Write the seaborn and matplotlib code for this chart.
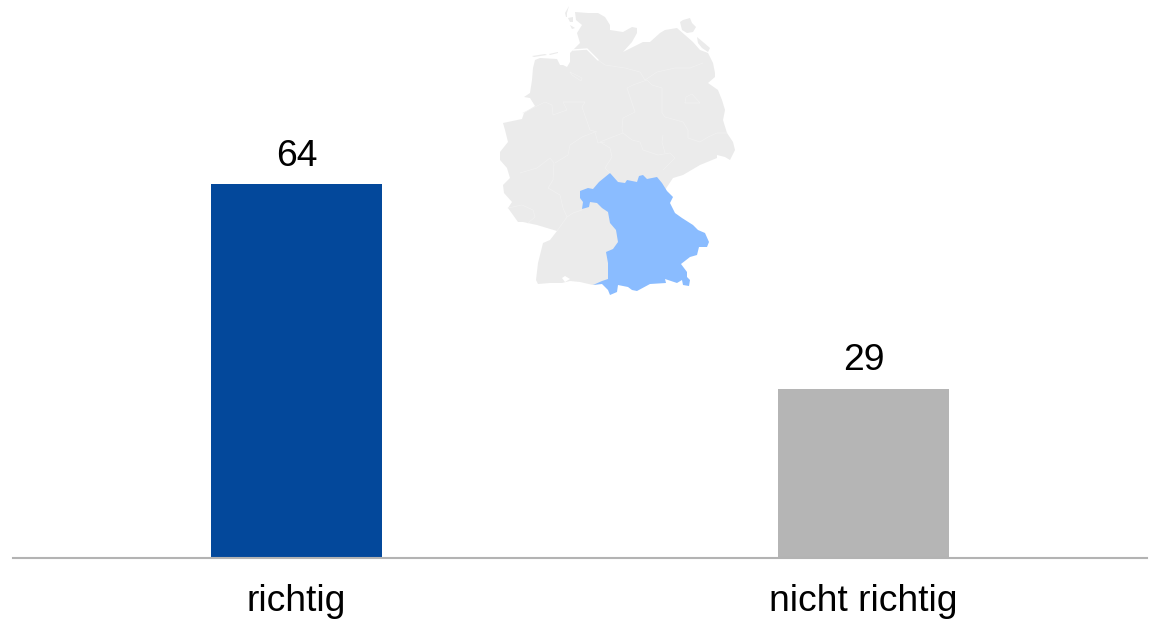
import numpy as np
import pandas as pd
import matplotlib
matplotlib.use("Agg")
import matplotlib.pyplot as plt
import seaborn as sns

categories = ["richtig", "nicht richtig"]
values = [64, 29]
bar_colors = ["#03489B", "#B5B5B5"]

# map outlines in pixels
germany_outline = [
    (575, 12), (588, 13), (598, 13), (605, 17), (610, 25), (610, 30), (623, 32), (632, 27), (637, 28),
    (637, 33), (632, 42), (623, 52), (633, 47), (643, 42), (650, 42), (660, 33), (665, 30), (677, 28),
    (685, 35), (693, 42), (700, 50), (708, 53), (713, 63), (715, 73), (715, 77), (708, 83), (718, 90),
    (722, 100), (725, 110), (723, 120), (727, 133), (733, 142), (735, 150), (730, 160), (725, 157),
    (717, 155), (717, 158), (700, 165), (683, 175), (673, 178), (667, 187), (640, 230), (620, 280),
    (593, 285), (580, 282), (570, 281), (562, 283), (550, 283), (538, 284), (536, 280), (538, 263),
    (543, 243), (550, 240), (557, 231), (537, 225), (523, 222), (518, 222), (508, 208), (512, 202),
    (504, 193), (503, 185), (510, 178), (507, 168), (500, 160), (500, 152), (508, 142), (505, 130),
    (503, 123), (522, 119), (524, 113), (535, 106), (530, 98), (524, 97), (530, 93), (532, 80),
    (533, 68), (535, 60), (540, 58), (557, 59), (560, 65), (563, 65), (567, 67), (570, 62), (570, 53),
    (573, 50), (580, 43), (577, 33), (582, 25), (576, 20),
]
bavaria_outline = [
    (610, 173), (618, 182), (625, 183), (627, 180), (637, 182), (639, 176), (643, 175), (647, 179),
    (657, 177), (662, 183), (667, 191), (673, 197), (670, 203), (675, 213), (682, 218), (693, 225),
    (698, 230), (705, 233), (709, 242), (707, 247), (699, 247), (697, 255), (690, 257), (681, 264),
    (687, 272), (687, 277), (690, 280), (689, 286), (683, 285), (682, 280), (677, 283), (665, 279),
    (666, 283), (650, 284), (637, 291), (632, 290), (628, 287), (618, 285), (617, 292), (610, 295),
    (608, 290), (602, 284), (593, 285), (602, 281), (608, 279), (608, 263), (606, 252), (613, 249),
    (618, 242), (616, 230), (610, 223), (608, 212), (602, 208), (597, 203), (590, 202), (589, 207),
    (582, 209), (583, 202), (580, 198), (580, 191), (588, 188), (593, 189), (599, 182),
]
islands = [
    [(566, 17), (565, 13), (569, 6), (567, 13), (567, 17)],
    [(568, 18), (573, 17), (573, 22), (570, 22)],
    [(570, 25), (575, 28), (572, 29)],
    [(532, 56), (545, 54), (547, 55), (534, 57)],
    [(549, 54), (558, 52), (558, 53), (550, 55)],
    [(680, 22), (683, 20), (690, 18), (692, 23), (696, 27), (693, 32), (687, 33), (682, 30)],
    [(697, 37), (703, 42), (710, 48), (708, 52), (702, 48), (698, 43)],
]
inner_borders = [
    [(627, 88), (633, 85), (647, 80), (652, 85), (662, 88), (662, 113), (665, 117), (683, 122), (688, 130), (688, 138), (700, 142), (708, 137), (717, 133), (727, 133)],
    [(627, 88), (632, 103), (635, 112), (623, 118), (622, 128), (623, 133), (610, 138), (600, 142)],
    [(623, 133), (632, 140), (640, 142), (643, 150), (658, 155), (670, 153), (675, 158), (663, 170)],
    [(663, 135), (662, 142), (665, 153)],
    [(685, 103), (686, 97), (692, 94), (700, 103), (685, 103)],
    [(600, 142), (610, 148), (612, 157), (605, 168), (610, 173)],
    [(645, 80), (657, 72), (675, 68), (690, 68), (703, 63)],
    [(598, 60), (605, 65), (625, 68), (640, 72), (645, 80)],
    [(520, 173), (537, 168), (550, 158), (554, 163), (553, 180), (548, 188), (560, 195), (563, 208), (567, 217), (557, 231)],
    [(555, 163), (568, 155), (570, 145), (582, 137), (595, 132), (598, 143), (605, 142)],
    [(508, 208), (522, 205), (533, 210), (535, 217), (528, 223)],
    [(567, 217), (573, 213), (582, 210)],
    [(523, 113), (545, 102), (552, 105), (553, 115), (567, 110), (563, 102), (578, 102), (585, 102), (582, 107), (590, 130), (597, 132)],
    [(570, 72), (582, 78), (581, 81), (572, 75), (570, 72)],
]
elbe_line = [(573, 50), (587, 49), (598, 60)]
bodensee = [(562, 278), (565, 276), (570, 279), (565, 282)]

sns.set_theme(style="white")
plt.rcParams["font.family"] = ["Liberation Sans", "DejaVu Sans"]

df = pd.DataFrame({"category": categories, "value": values})

fig = plt.figure(figsize=(11.53, 6.21), dpi=100)

# the chart area runs from the top of the picture down to the base line
ax = fig.add_axes([13 / 1153, 1 - 558 / 621, (1147 - 13) / 1153, 558 / 621])
sns.barplot(data=df, x="category", y="value", hue="category", palette=bar_colors,
            order=categories, hue_order=categories, width=0.302, legend=False,
            saturation=1, linewidth=0, ax=ax)
ax.set_xlim(-0.5, 1.5)
ax.set_ylim(0, 95.5)
ax.set_xlabel("")
ax.set_ylabel("")
ax.set_yticks([])
ax.tick_params(axis="x", length=0, labelsize=26.8, labelcolor="black", pad=19)
sns.despine(ax=ax, left=True)
ax.spines["bottom"].set_color("#B3B3B3")
ax.spines["bottom"].set_linewidth(1.5)

for container in ax.containers:
    ax.bar_label(container, fontsize=26.8, color="black", padding=7.5)

# map sits on its own overlay in pixel coordinates
map_ax = fig.add_axes([0, 0, 1, 1], facecolor="none")
map_ax.set_xlim(0, 1153)
map_ax.set_ylim(621, 0)
map_ax.axis("off")
map_ax.fill(*zip(*germany_outline), color="#EBEBEB", lw=0)
for island in islands:
    map_ax.fill(*zip(*island), color="#EBEBEB", lw=0)
for border in inner_borders:
    map_ax.plot(*zip(*border), color="#F1F1F1", lw=0.5)
map_ax.plot(*zip(*elbe_line), color="white", lw=1.0)
map_ax.fill(*zip(*bodensee), color="white", lw=0)
map_ax.fill(*zip(*bavaria_outline), color="#8ABCFF", lw=0)

fig.savefig("out.png", dpi=100)
plt.close(fig)
